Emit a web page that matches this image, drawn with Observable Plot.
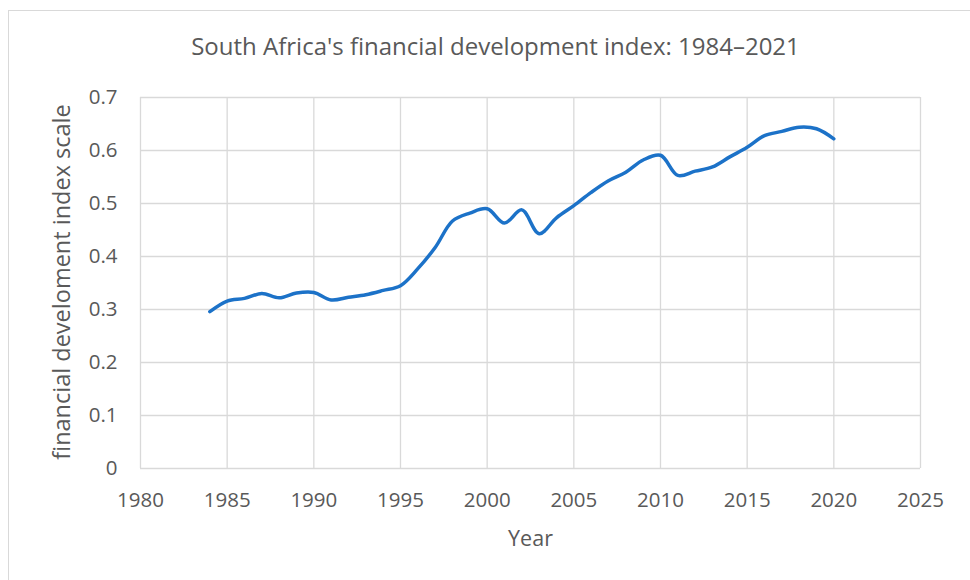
<!DOCTYPE html>
<html>
<head>
<meta charset="utf-8">
<script src="https://cdn.jsdelivr.net/npm/d3@7"></script>
<script src="https://cdn.jsdelivr.net/npm/@observablehq/plot@0.6"></script>
<style>
  html, body { margin: 0; padding: 0; background: #fff; }
  #frame { position: absolute; left: 8px; top: 10px; width: 1000px; height: 600px; border: 1.5px solid #d9d9d9; box-sizing: border-box; }
  #chart { position: absolute; left: 0; top: 0; }
</style>
</head>
<body>
<div id="frame"></div>
<div id="chart"></div>
<script>
const years = d3.range(1984, 2021);
const fdIndex = [
  0.296, 0.316, 0.321, 0.330, 0.322, 0.331, 0.332, 0.318, 0.323, 0.328,
  0.336, 0.345, 0.377, 0.417, 0.467, 0.482, 0.490, 0.463, 0.488, 0.443,
  0.473, 0.496, 0.521, 0.543, 0.559, 0.582, 0.591, 0.553, 0.561, 0.569,
  0.588, 0.606, 0.628, 0.636, 0.644, 0.641, 0.622
];
const xTicks = [1980, 1985, 1990, 1995, 2000, 2005, 2010, 2015, 2020, 2025];
const yTicks = [0, 0.1, 0.2, 0.3, 0.4, 0.5, 0.6, 0.7];
const titleText = "South Africa's financial development index: 1984\u20132021";
const xLabel = "Year";
const yLabel = "financial develoment index scale";

const data = years.map((y, i) => ({year: y, value: fdIndex[i]}));
const font = "'Open Sans', 'Noto Sans', sans-serif";

const chart = Plot.plot({
  width: 970,
  height: 580,
  marginTop: 97,
  marginBottom: 112,
  marginLeft: 140,
  marginRight: 50,
  style: {fontFamily: font, color: "#595959", background: "transparent"},
  x: {domain: [1980, 2025]},
  y: {domain: [0, 0.7]},
  marks: [
    Plot.gridX(xTicks, {stroke: "#d9d9d9", strokeOpacity: 1, strokeWidth: 1.3}),
    Plot.gridY(yTicks, {stroke: "#d9d9d9", strokeOpacity: 1, strokeWidth: 1.3}),
    Plot.axisX({
      ticks: xTicks, tickSize: 0, tickPadding: 24, tickFormat: d => String(d),
      fontSize: 20.5, fill: "#595959",
      label: null
    }),
    Plot.axisY({
      ticks: yTicks, tickSize: 0, tickPadding: 23,
      tickFormat: d => d === 0 ? "0" : d.toFixed(1),
      fontSize: 20.5, fill: "#595959",
      label: null
    }),
    Plot.text([xLabel], {
      frameAnchor: "bottom", lineAnchor: "middle", dy: 71, fontSize: 21.5,
      fill: "#595959", text: d => d
    }),
    Plot.text([yLabel], {
      frameAnchor: "left", lineAnchor: "middle", textAnchor: "middle", rotate: -90,
      dx: -78, dy: -1, fontSize: 23.5, fill: "#595959", text: d => d
    }),
    Plot.text([titleText], {
      frameAnchor: "top", lineAnchor: "middle", dy: -50, dx: -35, fontSize: 24,
      fill: "#595959", text: d => d
    }),
    Plot.line(data, {
      x: "year", y: "value", stroke: "#1c72c8", strokeWidth: 3.5,
      curve: "catmull-rom", strokeLinecap: "round", strokeLinejoin: "round"
    })
  ]
});
document.getElementById("chart").appendChild(chart);
</script>
</body>
</html>
